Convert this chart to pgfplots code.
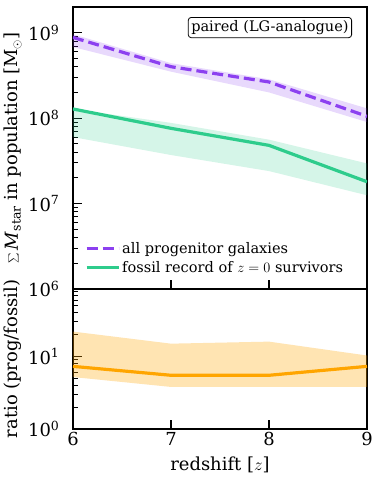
\documentclass[border=0pt]{standalone}
\usepackage{fontspec}
\setmainfont{DejaVu Serif}
\usepackage{pgfplots}
\pgfplotsset{compat=1.18}
\definecolor{prog}{HTML}{8C40F0}
\definecolor{foss}{HTML}{2ECC8C}
\definecolor{rat}{HTML}{FFA500}

\pgfplotsset{
  mypanel/.style={
    scale only axis, width=294bp,
    xmin=6, xmax=9,
    axis line style={line width=1.4bp},
    tick align=inside, xtick pos=bottom, ytick pos=left,
    major tick length=9bp, minor tick length=5bp,
    every major tick/.append style={black, line width=1.1bp},
    every minor tick/.append style={black, line width=0.8bp},
    tick label style={font=\fontsize{18}{20}\selectfont},
    yticklabel style={xshift=-10bp},
    xlabel style={font=\fontsize{18}{20}\selectfont, yshift=-4bp},
    every axis y label/.style={at={(axis description cs:-0.204,0.5)}, rotate=90,
        anchor=center, font=\fontsize{18}{20}\selectfont},
    xtick={6,7,8,9},
  },
}

\begin{document}
\begin{tikzpicture}
\begin{axis}[mypanel, name=ax1, ymode=log,
    height=282bp,
    ymin=1e6, ymax=2e9,
    xticklabels={},
    ytick={1e6,1e7,1e8,1e9},
    yticklabels={10\textsuperscript{6},10\textsuperscript{7},10\textsuperscript{8},10\textsuperscript{9}},
    minor ytick={2e6,3e6,4e6,5e6,6e6,7e6,8e6,9e6,2e7,3e7,4e7,5e7,6e7,7e7,8e7,9e7,
                 2e8,3e8,4e8,5e8,6e8,7e8,8e8,9e8},
    ylabel={$\sum$\,\textit{M}\textsubscript{star} in population [M$_\odot$]},
    legend style={at={(axis description cs:0.03,0.04)}, anchor=south west,
        draw=none, fill=none, font=\fontsize{14.6}{16}\selectfont,
        row sep=2bp},
    legend cell align=left,
    legend image code/.code={\draw[#1] (0bp,0bp) -- (32bp,0bp);},
]
% progenitor band
\addplot[fill=prog, fill opacity=0.2, draw=none, forget plot] coordinates {
    (6,9.6e8)(7,4.4e8)(8,2.85e8)(9,1.3e8)(9,9.0e7)(8,2.0e8)(7,3.5e8)(6,6.8e8)};
% fossil band
\addplot[fill=foss, fill opacity=0.2, draw=none, forget plot] coordinates {
    (6,1.28e8)(7,8.8e7)(8,5.6e7)(9,2.95e7)(9,1.25e7)(8,2.4e7)(7,3.7e7)(6,6.0e7)};

\addplot[prog, line width=3.2bp, dash pattern=on 11bp off 5bp] coordinates {(6,8.8e8)(7,4.0e8)(8,2.65e8)(9,1.05e8)};
\addlegendentry{all progenitor galaxies}
\addplot[foss, line width=3.2bp] coordinates {(6,1.28e8)(7,7.6e7)(8,4.8e7)(9,1.8e7)};
\addlegendentry{fossil record of $z=0$ survivors}

\node[draw, rounded corners=3bp, line width=0.8bp, inner sep=3bp, anchor=north east,
      font=\fontsize{14.6}{16}\selectfont] at (axis description cs:0.949,0.9645) {paired (LG-analogue)};
\end{axis}

\begin{axis}[mypanel, name=ax2, ymode=log,
    at={(ax1.south west)}, anchor=north west,
    height=140bp,
    ymin=1, ymax=85,
    ytick={1,10},
    yticklabels={10\textsuperscript{0},10\textsuperscript{1}},
    minor ytick={2,3,4,5,6,7,8,9,20,30,40,50,60,70,80},
    xticklabel style={/pgf/number format/assume math mode=true},
    xlabel={redshift [$z$]},
    ylabel={ratio (prog/fossil)},
]
\addplot[fill=rat, fill opacity=0.3, draw=none, forget plot] coordinates {
    (6,22)(7,15)(8,16)(9,10.3)(9,3.8)(8,3.8)(7,3.8)(6,5.2)};
\addplot[rat, line width=3.2bp] coordinates {(6,7.3)(7,5.5)(8,5.5)(9,7.3)};
\end{axis}

\pgfresetboundingbox
\path[use as bounding box] ([xshift=-73bp,yshift=-52bp]ax2.south west) rectangle ([xshift=7bp,yshift=7bp]ax1.north east);
\end{tikzpicture}
\end{document}
